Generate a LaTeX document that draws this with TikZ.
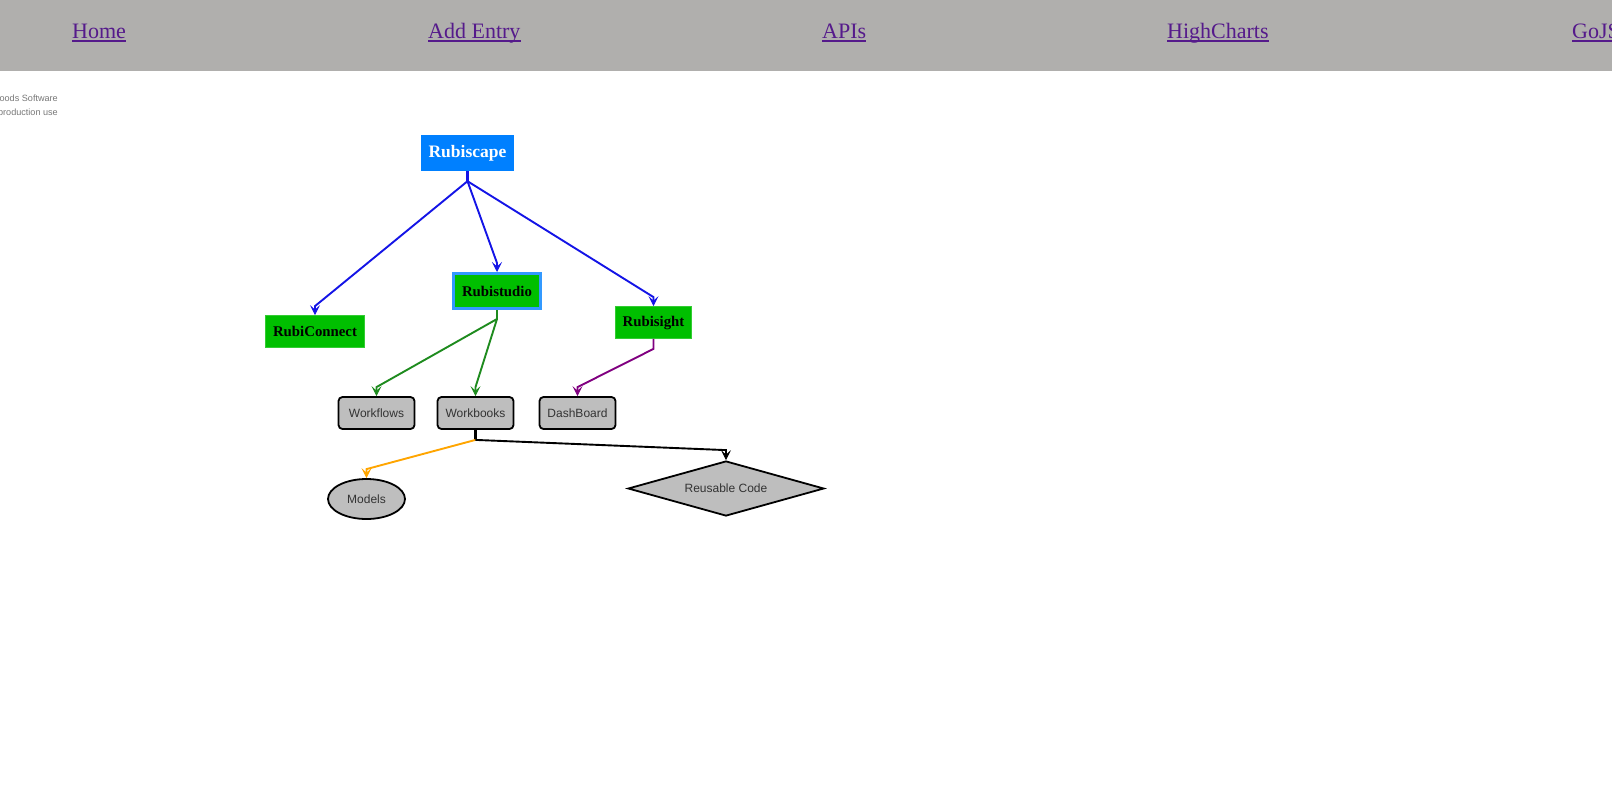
\documentclass[tikz,border=0pt]{standalone}
\usepackage{fontspec}
\setmainfont{Liberation Serif}
\setsansfont{Liberation Sans}
\usetikzlibrary{arrows.meta,shapes.geometric,calc}
\definecolor{bandgray}{HTML}{B0AFAD}
\definecolor{linkcol}{HTML}{551A8B}
\definecolor{rsblue}{HTML}{0080FF}
\definecolor{rsgreen}{HTML}{00BF00}
\definecolor{selblue}{HTML}{3399FF}
\definecolor{nodegray}{HTML}{BEBEBE}
\definecolor{wmgray}{HTML}{777777}
\definecolor{cblue}{HTML}{1414E6}
\definecolor{cgreen}{HTML}{1E8B1E}
\definecolor{cpurple}{HTML}{800080}
\definecolor{corange}{HTML}{FFA500}
\tikzset{
  link/.style={anchor=base west, inner sep=0pt, text=linkcol, font=\fontsize{22}{26}\selectfont},
  wmark/.style={anchor=base east, inner sep=0pt, text=wmgray, font=\sffamily\fontsize{9.1}{11}\selectfont},
  topbox/.style={fill=rsblue, draw=none, inner sep=0pt, text=white, font=\bfseries\fontsize{17.5}{20}\selectfont},
  greenbox/.style={fill=rsgreen, draw=rsgreen!80!white, line width=0.8pt, inner sep=0pt, text=black, font=\bfseries\fontsize{14.8}{17}\selectfont},
  graybox/.style={rectangle, rounded corners=4pt, fill=nodegray, draw=black, line width=1.8pt, inner sep=0pt,
    minimum width=76pt, minimum height=32pt, text=black!80, font=\sffamily\fontsize{12}{14}\selectfont},
  conn/.style={line width=1.9pt, -{Stealth[length=10pt,width=10pt,inset=4.5pt,line width=0.8pt]}},
  stem/.style={line width=2.4pt}
}
\begin{document}
\begin{tikzpicture}[x=1pt,y=-1pt]
\useasboundingbox (0,0) rectangle (1612,807);
\clip (0,0) rectangle (1612,807);
% header band
\fill[bandgray] (0,0) rectangle (1612,71);
\node[link] (home) at (72,38) {Home};
\node[link] (add) at (428,38) {Add Entry};
\node[link] (apis) at (822,38) {APIs};
\node[link] (high) at (1167,38) {HighCharts};
\node[link] (gojs) at (1572,38) {GoJS};
\foreach \n in {home,add,apis,high,gojs}
  \draw[linkcol, line width=1.6pt] ($(\n.base west)+(0,3)$) -- ($(\n.base east)+(0,3)$);
% watermark
\node[wmark] (wm1) at (58,101) {oods Software};
\node[wmark] (wm2) at (58,115) {production use};
% nodes
\node[topbox, minimum width=93pt, minimum height=36pt] (rubiscape) at (467.5,153) {Rubiscape};
\node[greenbox, minimum width=99pt, minimum height=32pt] (rubiconnect) at (315,331.5) {RubiConnect};
\node[greenbox, fill=rsgreen, draw=selblue, line width=3pt, minimum width=87pt, minimum height=35pt] (rubistudio) at (497,291) {Rubistudio};
\node[greenbox, minimum width=76pt, minimum height=32pt] (rubisight) at (653.5,322.5) {Rubisight};
\node[graybox] (workflows) at (376.5,413) {Workflows};
\node[graybox] (workbooks) at (475.5,413) {Workbooks};
\node[graybox] (dashboard) at (577.5,413) {DashBoard};
\node[ellipse, fill=nodegray, draw=black, line width=1.8pt, inner sep=0pt, minimum width=77pt, minimum height=40pt,
  text=black!80, font=\sffamily\fontsize{12}{14}\selectfont] (models) at (366.5,499) {Models};
\node[diamond, aspect=3.5, fill=nodegray, draw=black, line width=1.8pt, inner sep=0pt, minimum width=196pt, minimum height=55pt,
  text=black!80, font=\sffamily\fontsize{12}{14}\selectfont] (reusable) at (726,488.5) {Reusable Code};
% junction coordinates
\coordinate (j0) at ($(rubiscape.south)+(0,10)$);
\coordinate (j1) at ($(rubistudio.south)+(0,9)$);
\coordinate (j2) at ($(rubisight.south)+(0,10)$);
\coordinate (j3) at ($(workbooks.south)+(0,10)$);
% connectors
\draw[stem, cblue] (rubiscape.south) -- (j0);
\draw[conn, cblue] (j0) -- ($(rubiconnect.north)+(0,-9)$) -- (rubiconnect.north);
\draw[conn, cblue] (j0) -- ($(rubistudio.north)+(0,-9)$) -- (rubistudio.north);
\draw[conn, cblue] (j0) -- ($(rubisight.north)+(0,-9)$) -- (rubisight.north);
\draw[stem, cgreen] (rubistudio.south) -- (j1);
\draw[conn, cgreen] (j1) -- ($(workflows.north)+(0,-9)$) -- (workflows.north);
\draw[conn, cgreen] (j1) -- ($(workbooks.north)+(0,-9)$) -- (workbooks.north);
\draw[conn, cpurple] (rubisight.south) -- (j2) -- ($(dashboard.north)+(0,-9)$) -- (dashboard.north);
\draw[stem, black] (workbooks.south) -- (j3);
\draw[conn, corange] (j3) -- ($(models.north)+(0,-9)$) -- (models.north);
\draw[conn, black] (j3) -- ($(reusable.north)+(0,-10)$) -- (reusable.north);
\end{tikzpicture}
\end{document}
